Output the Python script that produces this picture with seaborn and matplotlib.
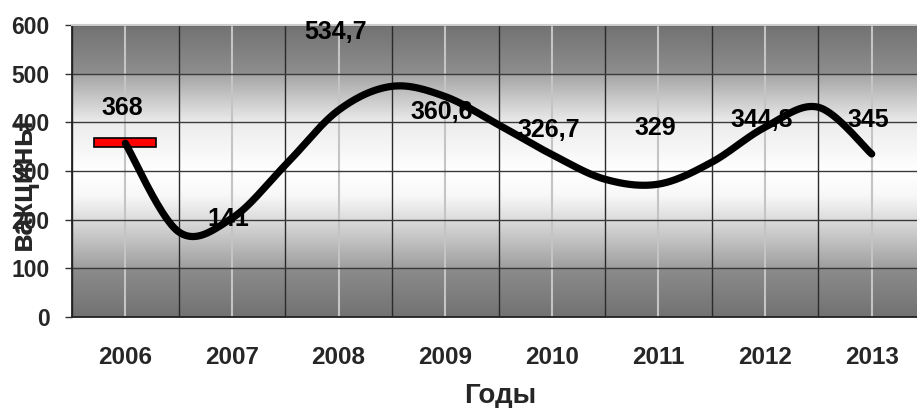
import numpy as np
import pandas as pd
import matplotlib
matplotlib.use("Agg")
import matplotlib.pyplot as plt
import seaborn as sns

# ---- data ----
years = ["2006", "2007", "2008", "2009", "2010", "2011", "2012", "2013"]
label_texts = ["368", "141", "534,7", "360,6", "326,7", "329", "344,8", "345"]
# vertical positions of the data labels as drawn in the source chart
label_pos_y = [429, 201, 586, 421, 384, 388, 405, 405]
# smoothed curve (category index, value)
curve_x = [0, 0.5, 1, 1.5, 2, 2.5, 3, 3.5, 4, 4.5, 5, 5.5, 6, 6.5, 7]
curve_y = [357, 175, 203, 312, 425, 474, 453, 395, 334, 283, 273, 318, 390, 431, 335]
# red bar segment at 2006
bar_top = [368]
bar_bottom = [350]
y_ticks = [0, 100, 200, 300, 400, 500, 600]


def catmull_rom(xs, ys, n=40):
    P = np.column_stack([xs, ys]).astype(float)
    P = np.vstack([P[0], P, P[-1]])
    out = []
    t = np.linspace(0, 1, n)[:, None]
    for i in range(1, len(P) - 2):
        p0, p1, p2, p3 = P[i - 1], P[i], P[i + 1], P[i + 2]
        seg = 0.5 * (2 * p1 + (-p0 + p2) * t + (2 * p0 - 5 * p1 + 4 * p2 - p3) * t ** 2
                     + (-p0 + 3 * p1 - 3 * p2 + p3) * t ** 3)
        out.append(seg if i == 1 else seg[1:])
    out = np.vstack(out)
    return out[:, 0], out[:, 1]


sns.set_theme(style="white")
plt.rcParams["font.family"] = ["Liberation Sans", "DejaVu Sans"]
plt.rcParams["font.weight"] = "bold"

W, H = 917, 408
fig = plt.figure(figsize=(W / 100, H / 100), dpi=100)
ax = fig.add_axes([72 / W, (H - 317) / H, 853 / W, 292 / H])

# background gradient (style)
stops_v = [0, 100, 100.01, 200, 250, 300, 400, 499.99, 500, 600]
stops_c = [0x72, 0x8c, 0x9e, 0xdc, 0xf8, 0xff, 0xec, 0xa4, 0x8e, 0x72]
vv = np.linspace(0, 600, 601)
cc = np.interp(vv, stops_v, stops_c) / 255.0
grad = np.repeat(cc[::-1, None], 2, axis=1)
ax.imshow(np.dstack([grad, grad, grad]), extent=(-0.5, 7.5, 0, 600),
          aspect="auto", zorder=0, interpolation="bilinear")

# red bar
ax.bar([0], [bar_top[0] - bar_bottom[0]], bottom=bar_bottom, width=0.58,
       color="#ff0000", edgecolor="black", linewidth=1.2, zorder=2)

# smoothed line
sx, sy = catmull_rom(curve_x, curve_y)
df = pd.DataFrame({"x": sx, "y": sy})
sns.lineplot(data=df, x="x", y="y", sort=False, estimator=None, color="black",
             linewidth=5.2, ax=ax, zorder=3)
ax.lines[-1].set_solid_capstyle("round")

# data labels
for i, (t, yv) in enumerate(zip(label_texts, label_pos_y)):
    ax.text(i - 0.03, yv, t, ha="center", va="center", fontsize=18,
            fontweight="bold", color="black", zorder=4)

ax.set_xlim(-0.5, 7.5)
ax.set_ylim(0, 600)
ax.set_yticks(y_ticks)
ax.set_yticklabels([str(v) for v in y_ticks], fontsize=16.5, fontweight="bold")
ax.set_xticks(range(len(years)))
ax.set_xticklabels(years, fontsize=17.5, fontweight="bold")
ax.set_xticks(np.arange(-0.5, 8.0, 1.0), minor=True)

ax.set_axisbelow(True)
ax.grid(False)
ax.yaxis.grid(True, which="major", color="#3a3a3a", linewidth=1.0)
ax.xaxis.grid(True, which="major", color="#c4c4c4", linewidth=1.5)
ax.xaxis.grid(True, which="minor", color="#2a2a2a", linewidth=1.0)

ax.tick_params(axis="x", which="major", length=0, pad=21)
ax.tick_params(axis="x", which="minor", length=6, width=1, color="#555555", direction="out")
ax.tick_params(axis="y", which="major", length=5, width=1, color="#333333", direction="out", pad=11, left=True)

for s in ["left", "bottom"]:
    ax.spines[s].set_color("#222222")
    ax.spines[s].set_linewidth(1.3)
ax.spines["top"].set_color("#cccccc")
ax.spines["top"].set_linewidth(1.5)
ax.spines["right"].set_visible(False)

ax.set_xlabel("")
ax.set_ylabel("")
fig.text(500 / W, 5 / H, "Годы", ha="center", va="baseline", fontsize=20, fontweight="bold")
fig.text(23 / W, 1 - 184 / H, "вакцины", ha="center", va="center", rotation=90,
         fontsize=22, fontweight="bold")

fig.savefig("out.png", dpi=100)
